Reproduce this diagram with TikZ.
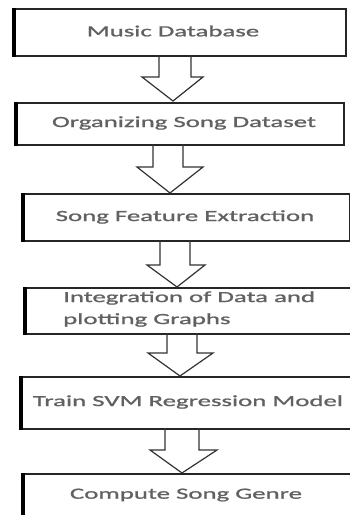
\documentclass[tikz,border=0pt]{standalone}
\usepackage{fontspec}
\newfontfamily\boxfont[FakeStretch=1.73,FakeBold=1.2]{Carlito}
\begin{document}
\begin{tikzpicture}[x=1pt,y=-1pt,
  box/.style={draw=black!85,line width=1.6pt,fill=white,inner sep=0pt,anchor=north west},
  lbl/.style={font=\boxfont\fontsize{15.5}{22}\selectfont,text=black!62,inner sep=0pt},
  leftedge/.style={line width=3.8pt,draw=black},
  blockarrow/.style={draw=black!80,line width=1.2pt,line join=miter},
]
\useasboundingbox (0,0) rectangle (350,515);
\fill[white] (0,0) rectangle (350,515);
\clip (0,0) rectangle (350,515);

% boxes
\node[box,minimum width=331pt,minimum height=47pt] (b1) at (14,8) {};
\node[box,minimum width=327pt,minimum height=42pt] (b2) at (16,102) {};
\node[box,minimum width=326pt,minimum height=47pt] (b3) at (23,193) {};
\node[box,minimum width=340pt,minimum height=46pt] (b4) at (25,287) {};
\node[box,minimum width=345pt,minimum height=52pt] (b5) at (21,376) {};
\node[box,minimum width=345pt,minimum height=60pt] (b6) at (23,473) {};

% thick left edges
\foreach \b in {b1,b2,b3,b4,b5,b6}{
  \draw[leftedge] (\b.north west) -- (\b.south west);
}

% labels
\node[lbl] (t1) at (173,31) {Music Database};
\node[lbl] (t2) at (184,123) {Organizing Song Dataset};
\node[lbl] (t3) at (185,217) {Song Feature Extraction};
\node[lbl,anchor=west,align=left] (t4) at (63,309) {Integration of Data and\\plotting Graphs};
\node[lbl] (t5) at (188,402) {Train SVM Regression Model};
\node[lbl] (t6) at (186,495) {Compute Song Genre};

% block arrows
\coordinate (a1) at (173,101);
\draw[blockarrow] (159,55) -- (159,77) -- (142,77) -- (a1) -- (203,77) -- (191,77) -- (191,55);
\coordinate (a2) at (170,193);
\draw[blockarrow] (153,144) -- (153,167) -- (137,167) -- (a2) -- (203,167) -- (183,167) -- (183,144);
\coordinate (a3) at (177,287);
\draw[blockarrow] (160,240) -- (160,265) -- (147,265) -- (a3) -- (205,265) -- (190,265) -- (190,240);
\coordinate (a4) at (180,376);
\draw[blockarrow] (167,333) -- (167,353) -- (148,353) -- (a4) -- (213,353) -- (197,353) -- (197,333);
\coordinate (a5) at (182,473);
\draw[blockarrow] (165,428) -- (165,450) -- (150,450) -- (a5) -- (217,450) -- (199,450) -- (199,428);
\end{tikzpicture}
\end{document}
